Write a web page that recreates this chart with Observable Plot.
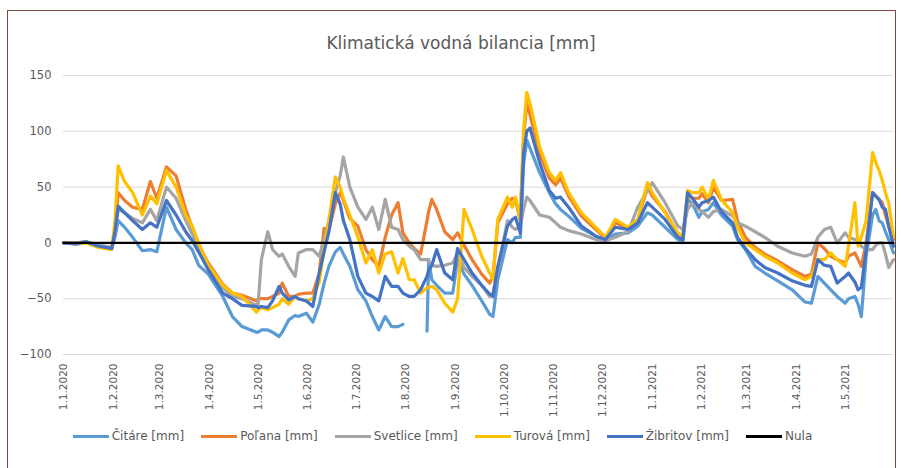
<!DOCTYPE html>
<html>
<head>
<meta charset="utf-8">
<script src="https://cdn.jsdelivr.net/npm/d3@7"></script>
<script src="https://cdn.jsdelivr.net/npm/@observablehq/plot@0.6"></script>
<style>
  html, body { margin: 0; padding: 0; background: #fff; }
  #wrap { position: relative; width: 901px; height: 468px; overflow: hidden; font-family: "DejaVu Sans", sans-serif; }
  #frame { position: absolute; left: 7px; top: 10px; width: 889px; height: 462px; border: 1.5px solid #7d4b3c; box-sizing: border-box; }
  #title { position: absolute; left: 0; top: 31px; width: 922px; text-align: center; font-size: 17px; color: #595959; line-height: 24px; }
  #plot { position: absolute; left: 0; top: 60px; }
  #legend { position: absolute; left: -8px; top: 429px; width: 901px; display: flex; justify-content: center; gap: 17px; font-size: 12px; color: #595959; }
  .item { display: flex; align-items: center; }
  .sw { display: inline-block; width: 36px; height: 3px; margin-right: 3px; }
</style>
</head>
<body>
<div id="wrap">
  <div id="frame"></div>
  <div id="title">Klimatická vodná bilancia [mm]</div>
  <div id="plot"></div>
  <div id="legend"></div>
</div>
<script>
const dates = [
"2020-01-01","2020-01-09","2020-01-15","2020-01-23","2020-01-31","2020-02-02","2020-02-04","2020-02-08","2020-02-13","2020-02-19",
"2020-02-24","2020-02-28","2020-03-05","2020-03-11","2020-03-17","2020-03-21","2020-03-25","2020-03-31","2020-04-09","2020-04-15",
"2020-04-21","2020-04-30","2020-05-01","2020-05-03","2020-05-07","2020-05-10","2020-05-14","2020-05-16","2020-05-20","2020-05-24",
"2020-05-26","2020-05-31","2020-06-04","2020-06-08","2020-06-11","2020-06-14","2020-06-18","2020-06-21","2020-06-23","2020-06-27",
"2020-07-02","2020-07-07","2020-07-11","2020-07-15","2020-07-19","2020-07-23","2020-07-27","2020-07-30","2020-08-03","2020-08-06",
"2020-08-10","2020-08-14","2020-08-15","2020-08-17","2020-08-20","2020-08-25","2020-08-30","2020-09-02","2020-09-06","2020-09-11",
"2020-09-17","2020-09-22","2020-09-24","2020-09-27","2020-10-03","2020-10-06","2020-10-08","2020-10-11","2020-10-13","2020-10-15",
"2020-10-17","2020-10-23","2020-10-29","2020-11-02","2020-11-05","2020-11-10","2020-11-18","2020-11-27","2020-12-03","2020-12-09",
"2020-12-17","2020-12-23","2020-12-29","2021-01-01","2021-01-09","2021-01-17","2021-01-20","2021-01-23","2021-01-26","2021-01-30",
"2021-02-01","2021-02-05","2021-02-08","2021-02-13","2021-02-20","2021-02-23","2021-02-28","2021-03-06","2021-03-12","2021-03-20",
"2021-03-29","2021-04-06","2021-04-10","2021-04-14","2021-04-18","2021-04-22","2021-04-26","2021-05-01","2021-05-03","2021-05-07",
"2021-05-09","2021-05-11","2021-05-14","2021-05-18","2021-05-20","2021-05-22","2021-05-24","2021-05-26","2021-05-28","2021-05-31"
];
const citare = [
0,-1,1,-3,-5,5,20,14,5,-7,
-6,-8,32,12,0,-6,-20,-28,-48,-66,
-75,-80,-80,-78,-78,-80,-84,-80,-69,-65,
-66,-63,-71,-55,-36,-21,-8,-4,-10,-21,
-42,-52,-66,-78,-66,-75,-75,-73,null,null,
null,-79,-15,-33,-38,-45,-45,-15,-28,-38,
-52,-64,-66,-33,3,0,5,5,70,92,
85,63,45,35,30,24,13,6,2,8,
9,15,27,25,14,3,0,39,35,23,
28,30,36,25,15,3,-6,-21,-27,-34,
-42,-53,-54,-30,-36,-42,-48,-54,-50,-48,
-55,-66,-12,25,30,20,18,10,3,-9
];
const polana = [
0,0,1,-3,-5,10,45,38,32,30,
55,40,68,60,30,14,-2,-18,-37,-45,
-47,-52,-50,-50,-50,-48,-45,-36,-48,-48,
-46,-45,-45,-27,13,12,35,45,38,22,
15,-6,-15,-21,5,25,36,9,0,-5,
-10,20,28,39,30,10,3,9,-2,-15,
-28,-36,-30,18,35,40,38,20,95,125,
115,80,58,52,58,42,24,12,4,18,
13,20,50,42,28,8,5,42,40,40,
44,36,50,38,39,20,5,-4,-10,-16,
-24,-30,-28,0,-5,-12,-15,-18,-12,-9,
-15,-21,0,45,42,39,36,25,15,3
];
const svetlice = [
0,0,1,-2,-4,8,30,27,22,18,
30,20,50,40,20,8,-5,-22,-40,-48,
-50,-56,-55,-15,10,-6,-12,-10,-21,-30,
-9,-6,-6,-12,3,20,45,60,77,50,
32,21,32,12,39,14,12,3,-3,-6,
-15,-15,-17,-20,-21,-20,-18,-9,-22,-30,
-38,-48,-45,-24,20,14,12,15,30,41,
38,25,23,18,14,11,8,3,2,5,
10,32,47,54,36,15,12,30,36,30,
28,23,28,30,24,18,15,10,5,-3,
-9,-12,-10,5,12,14,0,9,5,3,
3,-3,-6,-6,-2,0,0,-10,-22,-15
];
const turova = [
0,-1,0,-4,-6,20,69,55,45,25,
42,35,65,50,25,15,0,-20,-38,-45,
-48,-62,-60,-58,-60,-58,-55,-50,-55,-48,
-50,-52,-50,-35,-6,20,59,50,40,25,
5,-18,-6,-27,-10,-8,-27,-14,-33,-33,
-45,-40,-40,-39,-42,-54,-62,-50,30,12,
-12,-27,-33,21,41,32,41,21,100,135,
125,86,63,56,63,45,27,14,5,21,
14,21,54,45,27,9,5,47,45,45,
50,39,56,39,27,14,0,-6,-12,-18,
-27,-33,-30,-15,-15,-9,-15,-21,-3,36,
-3,5,20,81,72,65,56,45,36,5
];
const zibritov = [
0,-1,1,-3,-5,10,33,27,20,12,
18,14,38,25,10,2,-8,-24,-45,-50,
-56,-57,-58,-57,-58,-52,-39,-45,-51,-48,
-50,-52,-57,-27,-8,10,45,35,20,3,
-30,-45,-48,-52,-30,-39,-39,-45,-48,-48,
-42,-30,-25,-20,-6,-27,-33,-5,-15,-27,
-38,-46,-48,-21,15,21,23,9,80,100,
103,72,47,40,41,32,15,6,3,14,
12,18,36,32,21,5,3,45,40,32,
36,38,41,28,18,5,-5,-15,-22,-27,
-34,-38,-39,-15,-20,-21,-36,-30,-27,-35,
-42,-40,-6,45,42,39,32,30,15,-3
];
const nulaValue = 0;
const seriesNames = ["Čitáre [mm]", "Poľana [mm]", "Svetlice [mm]", "Turová [mm]", "Žibritov [mm]", "Nula"];
const seriesColors = ["#5B9BD5", "#ED7D31", "#A5A5A5", "#FFC000", "#4472C4", "#000000"];
const tickDates = ["2020-01-01","2020-02-01","2020-03-01","2020-04-01","2020-05-01","2020-06-01","2020-07-01","2020-08-01","2020-09-01","2020-10-01","2020-11-01","2020-12-01","2021-01-01","2021-02-01","2021-03-01","2021-04-01","2021-05-01"];
const yTicks = [-100, -50, 0, 50, 100, 150];

const parse = d3.utcParse("%Y-%m-%d");
const seriesValues = [citare, polana, svetlice, turova, zibritov, dates.map(() => nulaValue)];
const tables = seriesValues.map(vals => dates.map((d, i) => ({date: parse(d), value: vals[i]})));
const fmt = d => `${d.getUTCDate()}.${d.getUTCMonth() + 1}.${d.getUTCFullYear()}`;

const marks = [
  Plot.ruleY(yTicks, {stroke: "#d9d9d9", strokeWidth: 1}),
  Plot.axisY({ticks: yTicks, tickSize: 0, tickPadding: 12, fontSize: 11.5, fill: "#595959", label: null}),
  Plot.axisX({ticks: tickDates.map(parse), tickFormat: fmt, tickRotate: -90, tickSize: 0, tickPadding: 9, fontSize: 10.5, fill: "#595959", label: null})
];
tables.forEach((t, i) => {
  marks.push(Plot.line(t, {x: "date", y: "value", stroke: seriesColors[i], strokeWidth: i === 5 ? 2.2 : 3.2, strokeLinejoin: "round", curve: "linear"}));
});

const chart = Plot.plot({
  width: 901,
  height: 360,
  marginTop: 15,
  marginBottom: 66,
  marginLeft: 63,
  marginRight: 8,
  style: {fontFamily: "'DejaVu Sans', sans-serif", background: "transparent"},
  x: {type: "utc", domain: [parse("2020-01-01"), parse("2021-05-31")]},
  y: {domain: [-100, 150]},
  marks
});
document.getElementById("plot").appendChild(chart);

const legend = document.getElementById("legend");
seriesNames.forEach((n, i) => {
  const it = document.createElement("div");
  it.className = "item";
  it.innerHTML = `<span class="sw" style="background:${seriesColors[i]}"></span><span>${n}</span>`;
  legend.appendChild(it);
});
</script>
</body>
</html>
